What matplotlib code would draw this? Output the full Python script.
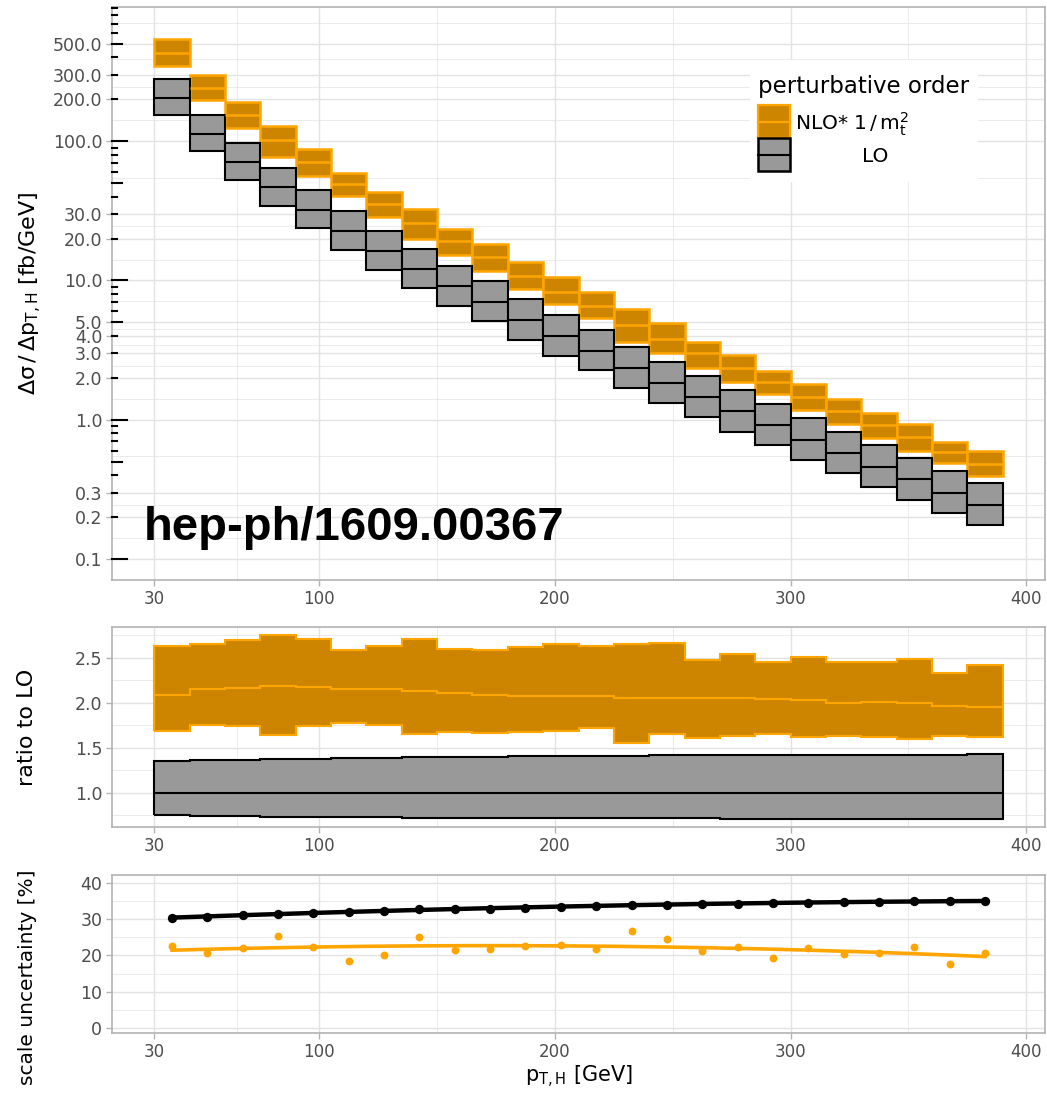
import numpy as np
import matplotlib
matplotlib.use("Agg")
import matplotlib.pyplot as plt
from matplotlib.patches import Rectangle
import matplotlib.transforms as mtransforms

# p_T,H bin edges [GeV]
pt_edges = [30, 45, 60, 75, 90, 105, 120, 135, 150, 165, 180, 195, 210,
            225, 240, 255, 270, 285, 300, 315, 330, 345, 360, 375, 390]

# LO central value per bin [fb/GeV]
lo_central = [205, 112.7, 71.3, 46.6, 32.3, 22.7, 16.3, 12.1, 9.06, 7.01,
              5.2, 4.0, 3.13, 2.35, 1.84, 1.46, 1.15, 0.916, 0.721, 0.576,
              0.458, 0.373, 0.299, 0.245]

# ratio to LO central: LO scale band
lo_ratio_up = [1.356, 1.363, 1.371, 1.378, 1.382, 1.386, 1.393, 1.397, 1.401,
               1.404, 1.408, 1.412, 1.412, 1.416, 1.419, 1.419, 1.423, 1.423,
               1.423, 1.427, 1.427, 1.427, 1.427, 1.431]
lo_ratio_dn = [0.757, 0.749, 0.742, 0.738, 0.734, 0.730, 0.730, 0.727, 0.727,
               0.727, 0.723, 0.723, 0.723, 0.719, 0.719, 0.719, 0.715, 0.715,
               0.715, 0.715, 0.715, 0.712, 0.712, 0.712]

# ratio to LO central: NLO* 1/mt^2 band
nlo_ratio_up = [2.63, 2.65, 2.70, 2.76, 2.71, 2.59, 2.63, 2.71, 2.60, 2.59,
                2.62, 2.65, 2.63, 2.66, 2.67, 2.48, 2.54, 2.46, 2.51, 2.45,
                2.45, 2.49, 2.33, 2.42]
nlo_ratio_mid = [2.09, 2.15, 2.17, 2.19, 2.18, 2.16, 2.16, 2.13, 2.11, 2.09,
                 2.08, 2.08, 2.08, 2.05, 2.06, 2.06, 2.05, 2.04, 2.03, 2.00,
                 2.01, 2.00, 1.97, 1.96]
nlo_ratio_dn = [1.69, 1.76, 1.74, 1.64, 1.74, 1.78, 1.76, 1.65, 1.68, 1.67,
                1.68, 1.69, 1.72, 1.55, 1.65, 1.61, 1.63, 1.66, 1.62, 1.63,
                1.62, 1.60, 1.63, 1.62]

# scale uncertainty [%]
unc_lo = [30.3, 30.7, 31.2, 31.5, 31.8, 32.1, 32.3, 32.8, 32.8, 32.9, 33.2,
          33.5, 33.7, 33.9, 34.0, 34.2, 34.3, 34.5, 34.6, 34.7, 34.8, 34.9,
          35.0, 35.1]
unc_nlo = [22.6, 20.6, 22.0, 25.5, 22.3, 18.6, 20.2, 25.0, 21.5, 21.7, 22.5,
           22.9, 21.7, 26.8, 24.6, 21.3, 22.3, 19.4, 22.0, 20.3, 20.6, 22.3,
           17.6, 20.8]

x_breaks = [30, 100, 200, 300, 400]
x_minor = [65, 150, 250, 350]
y1_breaks = [0.1, 0.2, 0.3, 1, 2, 3, 4, 5, 10, 20, 30, 100, 200, 300, 500]

ORANGE = "#FFA500"
ORANGE_FILL = "#CD8500"
GREY_FILL = "#999999"
BORDER = "#B3B3B3"
GRID = "#E3E3E3"
TXT = "#4D4D4D"

edges = np.array(pt_edges, dtype=float)
left = edges[:-1]
right = edges[1:]
centers = (left + right) / 2
lo_c = np.array(lo_central)
lo_up, lo_dn = lo_c * np.array(lo_ratio_up), lo_c * np.array(lo_ratio_dn)
nlo_up = lo_c * np.array(nlo_ratio_up)
nlo_mid = lo_c * np.array(nlo_ratio_mid)
nlo_dn = lo_c * np.array(nlo_ratio_dn)

W, H = 1047, 1095
fig = plt.figure(figsize=(W / 100, H / 100), dpi=100)


def box(x0, y0, x1, y1):
    return [x0 / W, 1 - y1 / H, (x1 - x0) / W, (y1 - y0) / H]


def style(ax, minor_y):
    for s in ax.spines.values():
        s.set_color(BORDER)
        s.set_linewidth(1.2)
    ax.set_xlim(12, 408)
    ax.set_xticks(x_breaks)
    ax.set_xticks(x_minor, minor=True)
    ax.set_yticks(minor_y, minor=True)
    ax.tick_params(which="major", color=BORDER, length=4, width=1,
                   labelcolor=TXT, labelsize=12.5, pad=3)
    ax.tick_params(which="minor", length=0)
    ax.tick_params(axis="x", labelsize=12)
    ax.grid(which="major", color=GRID, lw=1.0)
    ax.grid(which="minor", color=GRID, lw=0.5)
    ax.set_axisbelow(True)


# ---------------- top panel ----------------
ax1 = fig.add_axes(box(112, 7, 1045, 580))
ax1.set_yscale("log")
ax1.set_ylim(0.0778, 920)
ax1.set_yticks(y1_breaks)
ax1.set_yticklabels(["%.1f" % v for v in y1_breaks])
ext = [0.05] + y1_breaks + [1000]
y1_minor = [np.sqrt(a * b) for a, b in zip(ext[:-1], ext[1:])]
style(ax1, y1_minor)
ax1.yaxis.set_minor_formatter(matplotlib.ticker.NullFormatter())

ax1.bar(left, nlo_up - nlo_dn, bottom=nlo_dn, width=15, align="edge",
        facecolor=ORANGE_FILL, edgecolor=ORANGE, lw=1.8, zorder=3)
ax1.hlines(nlo_mid, left, right, color=ORANGE, lw=1.8, zorder=4)
ax1.bar(left, lo_up - lo_dn, bottom=lo_dn, width=15, align="edge",
        facecolor=GREY_FILL, edgecolor="black", lw=1.5, zorder=3)
ax1.hlines(lo_c, left, right, color="black", lw=1.5, zorder=4)

# log ticks along the left border
trans = mtransforms.blended_transform_factory(ax1.transAxes, ax1.transData)
for dec in [0.1, 1, 10, 100]:
    for k in range(1, 10):
        v = k * dec
        if v > 920:
            continue
        L = 15 if k == 1 else (10 if k == 5 else 5)
        ax1.plot([0, L / 933], [v, v], color="black", lw=1.5,
                 transform=trans, zorder=5, clip_on=False)

ax1.set_ylabel(r"$\mathregular{\Delta\sigma\,/\,\Delta p_{T,H}}$ [fb/GeV]",
               fontsize=16, color="black")
ax1.yaxis.set_label_coords(-0.073, 0.5)

ax1.text(0.034, 0.07, "hep-ph/1609.00367", fontsize=34, fontweight="bold",
         family="Liberation Sans", color="black", va="baseline", zorder=6,
         transform=ax1.transAxes)

# legend drawn by hand
fig.add_artist(Rectangle((750 / W, 1 - 182 / H), 228 / W, 122 / H,
                         facecolor="white", edgecolor="none", zorder=5))
fig.text(758 / W, 1 - 93 / H, "perturbative order", fontsize=16.5,
         color="black", zorder=6)
fig.add_artist(Rectangle((758 / W, 1 - 138 / H), 32 / W, 33 / H,
                         facecolor=ORANGE_FILL, edgecolor=ORANGE, lw=1.6, zorder=6))
fig.add_artist(matplotlib.lines.Line2D([758 / W, 790 / W], [1 - 121.5 / H] * 2,
                                       color=ORANGE, lw=1.6, zorder=7))
fig.add_artist(Rectangle((758 / W, 1 - 171 / H), 32 / W, 33 / H,
                         facecolor=GREY_FILL, edgecolor="black", lw=1.8, zorder=6))
fig.add_artist(matplotlib.lines.Line2D([758 / W, 790 / W], [1 - 154.5 / H] * 2,
                                       color="black", lw=1.5, zorder=7))
fig.text(795 / W, 1 - 124 / H, r"NLO* $\mathregular{1\,/\,m_t^2}$", fontsize=14.5,
         color="black", va="center", zorder=7)
fig.text(862 / W, 1 - 157 / H, "LO", fontsize=14.5, color="black",
         va="center", zorder=7)

# ---------------- ratio panel ----------------
ax2 = fig.add_axes(box(112, 627, 1045, 827))
ax2.set_ylim(0.622, 2.844)
ax2.set_yticks([1.0, 1.5, 2.0, 2.5])
ax2.set_yticklabels(["1.0", "1.5", "2.0", "2.5"])
style(ax2, [0.75, 1.25, 1.75, 2.25, 2.75])
ax2.stairs(lo_ratio_up, edges, baseline=lo_ratio_dn, fill=True,
           facecolor=GREY_FILL, edgecolor="black", lw=1.5, zorder=3)
ax2.hlines(1.0, edges[0], edges[-1], color="black", lw=1.5, zorder=4)
ax2.stairs(nlo_ratio_up, edges, baseline=nlo_ratio_dn, fill=True,
           facecolor=ORANGE_FILL, edgecolor=ORANGE, lw=1.5, zorder=3)
ax2.stairs(nlo_ratio_mid, edges, baseline=None, color=ORANGE, lw=1.5, zorder=4)
ax2.set_ylabel("ratio to LO", fontsize=16, color="black")
ax2.yaxis.set_label_coords(-0.08, 0.5)

# ---------------- scale uncertainty panel ----------------
ax3 = fig.add_axes(box(112, 875, 1045, 1033))
ax3.set_ylim(-1.38, 42.2)
ax3.set_yticks([0, 10, 20, 30, 40])
style(ax3, [5, 15, 25, 35])
xs = np.linspace(centers[0], centers[-1], 200)
for vals, col, lw, ms in [(unc_lo, "black", 3.2, 45), (unc_nlo, ORANGE, 2.6, 32)]:
    coef = np.polyfit(centers, vals, 2)
    ax3.plot(xs, np.polyval(coef, xs), color=col, lw=lw, zorder=3)
    ax3.scatter(centers, vals, s=ms, color=col, zorder=4, linewidths=0)
ax3.set_ylabel("scale uncertainty [%]", fontsize=14.5, color="black")
ax3.yaxis.set_label_coords(-0.08, 0.354)
ax3.set_xlabel(r"$\mathregular{p_{T,H}}$ [GeV]", fontsize=15, color="black",
               labelpad=2)

fig.savefig("out.png", dpi=100)
